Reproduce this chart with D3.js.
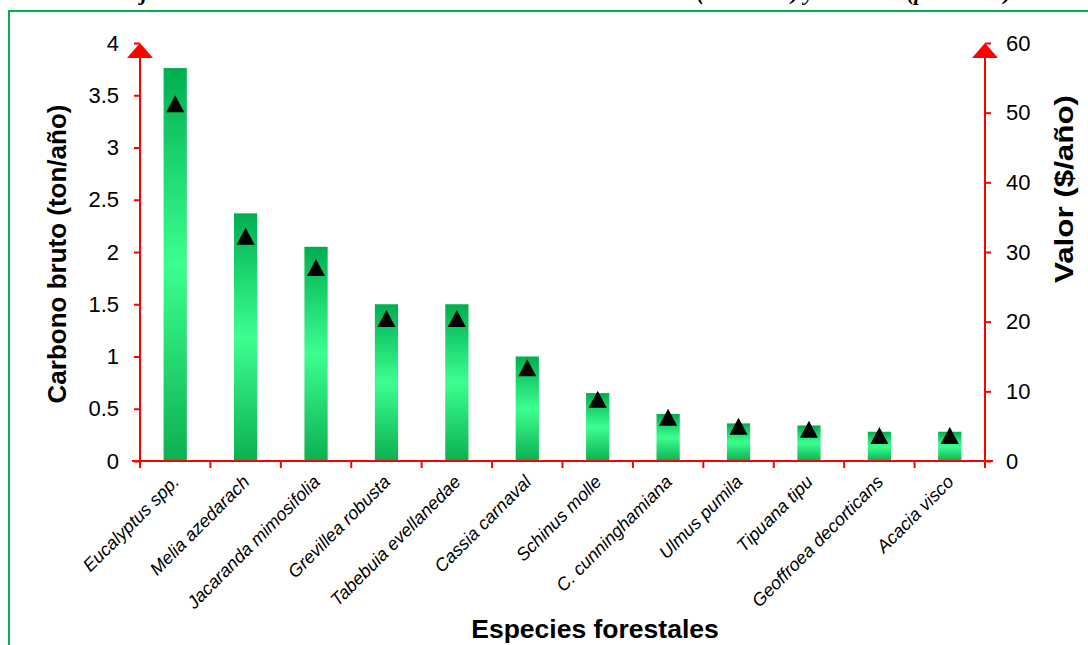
<!DOCTYPE html>
<html>
<head>
<meta charset="utf-8">
<script src="https://cdn.jsdelivr.net/npm/d3@7/dist/d3.min.js"></script>
<style>
  html, body { margin: 0; padding: 0; background: #fff; }
  svg { display: block; }
</style>
</head>
<body>
<svg id="chart" width="1088" height="645"></svg>
<script>
// Species, carbon fixed per year (bars, left axis) and its value (triangles, right axis)
const species = [
  "Eucalyptus spp.", "Melia azedarach", "Jacaranda mimosifolia", "Grevillea robusta",
  "Tabebuia evellanedae", "Cassia carnaval", "Schinus molle", "C. cunninghamiana",
  "Ulmus pumila", "Tipuana tipu", "Geoffroea decorticans", "Acacia visco"
];
const carbono = [3.76, 2.37, 2.05, 1.50, 1.50, 1.00, 0.65, 0.45, 0.36, 0.34, 0.28, 0.28];
const valor   = [51.2, 32.2, 27.7, 20.4, 20.4, 13.3, 8.8, 6.2, 4.9, 4.5, 3.6, 3.6];
const carbonoTicks = [0, 0.5, 1, 1.5, 2, 2.5, 3, 3.5, 4];
const valorTicks = [0, 10, 20, 30, 40, 50, 60];

const svg = d3.select("#chart");
const RED = "#ff0000";
const plotL = 140, plotR = 985, plotT = 43, plotB = 461;

// frame around the figure
svg.append("rect")
  .attr("x", 9).attr("y", 11).attr("width", 1200).attr("height", 800)
  .attr("fill", "none").attr("stroke", "#00b050").attr("stroke-width", 2);

// caption line running above the frame
const cap = svg.append("g")
  .attr("font-family", "'Liberation Serif', 'Times New Roman', serif")
  .attr("font-style", "italic").attr("font-weight", "bold")
  .attr("font-size", 22).attr("fill", "#000");
cap.append("text").attr("x", 141).attr("y", 0).attr("text-anchor", "end").text("Cuadro 4. Fi");
cap.append("text").attr("x", 141).attr("y", 0).text("jación anual de carbono bruto en el arbolado urbano");
cap.append("text").attr("x", 697).attr("y", 0).text("(toneladas) y valor");
cap.append("text").attr("x", 907).attr("y", 0).text("(pesos/año)");

const x = d3.scaleBand().domain(species).range([plotL, plotR]).padding(0);
const yL = d3.scaleLinear().domain([0, 4]).range([plotB, plotT]);
const yR = d3.scaleLinear().domain([0, 60]).range([plotB, plotT]);

// bar gradient: dark at the ends, bright in the middle
const defs = svg.append("defs");
const grad = defs.append("linearGradient").attr("id", "barGrad")
  .attr("x1", 0).attr("y1", 0).attr("x2", 0).attr("y2", 1);
grad.append("stop").attr("offset", "0%").attr("stop-color", "#00ae50");
grad.append("stop").attr("offset", "50%").attr("stop-color", "#3cff90");
grad.append("stop").attr("offset", "100%").attr("stop-color", "#0cb050");

const barW = x.bandwidth() * 0.33;
svg.append("g").selectAll("rect")
  .data(species)
  .join("rect")
  .attr("x", d => x(d) + (x.bandwidth() - barW) / 2)
  .attr("y", (d, i) => yL(carbono[i]))
  .attr("width", barW)
  .attr("height", (d, i) => yL(0) - yL(carbono[i]))
  .attr("fill", "url(#barGrad)");

// axes
const fmt = d3.format("~g");
const axisFont = "'Liberation Sans', Arial, sans-serif";

const gL = svg.append("g").attr("transform", `translate(${plotL},0)`)
  .call(d3.axisLeft(yL).tickValues(carbonoTicks).tickFormat(fmt).tickSize(6).tickPadding(15));
const gR = svg.append("g").attr("transform", `translate(${plotR},0)`)
  .call(d3.axisRight(yR).tickValues(valorTicks).tickFormat(fmt).tickSize(6).tickPadding(15));

[gL, gR].forEach(g => {
  g.select(".domain").remove();
  g.selectAll(".tick line").attr("stroke", RED).attr("stroke-width", 2);
  g.selectAll(".tick text").attr("font-family", axisFont).attr("font-size", 22).attr("fill", "#000");
});

// vertical axis lines
svg.append("line").attr("x1", plotL).attr("x2", plotL).attr("y1", plotT + 4).attr("y2", plotB + 6)
  .attr("stroke", RED).attr("stroke-width", 2);
svg.append("line").attr("x1", plotR).attr("x2", plotR).attr("y1", plotT + 4).attr("y2", plotB + 6)
  .attr("stroke", RED).attr("stroke-width", 2);

// category axis along the bottom, ticks between species
svg.append("line").attr("x1", plotL - 8).attr("x2", plotR + 8).attr("y1", plotB).attr("y2", plotB)
  .attr("stroke", RED).attr("stroke-width", 2);
const bounds = species.map(d => x(d)).concat([x(species[species.length - 1]) + x.bandwidth()]);
svg.append("g").selectAll("line")
  .data(bounds)
  .join("line")
  .attr("x1", d => d).attr("x2", d => d)
  .attr("y1", plotB).attr("y2", plotB + 7)
  .attr("stroke", RED).attr("stroke-width", 2);

// arrow heads on the top of both value axes
[plotL, plotR].forEach(ax => {
  svg.append("path")
    .attr("d", `M${ax},${plotT} L${ax + 13},${plotT + 15} L${ax - 13},${plotT + 15} Z`)
    .attr("fill", RED);
});

// value markers (right axis)
svg.append("g").selectAll("path")
  .data(species)
  .join("path")
  .attr("d", (d, i) => {
    const cx = x(d) + x.bandwidth() / 2, cy = yR(valor[i]);
    return `M${cx},${cy - 9} L${cx + 9},${cy + 8} L${cx - 9},${cy + 8} Z`;
  })
  .attr("fill", "#000");

// species labels
svg.append("g").selectAll("text")
  .data(species)
  .join("text")
  .attr("transform", d => `translate(${x(d) + x.bandwidth() / 2 + 5},${plotB + 22}) rotate(-45)`)
  .attr("text-anchor", "end")
  .attr("font-family", axisFont).attr("font-style", "italic").attr("font-size", 18)
  .attr("fill", "#000")
  .text(d => d);

// axis titles
svg.append("text")
  .attr("transform", "translate(66,254) rotate(-90)")
  .attr("text-anchor", "middle")
  .attr("font-family", axisFont).attr("font-weight", "bold").attr("font-size", 26)
  .text("Carbono bruto (ton/año)");
svg.append("text")
  .attr("transform", "translate(1073,189) rotate(-90)")
  .attr("text-anchor", "middle")
  .attr("font-family", axisFont).attr("font-weight", "bold").attr("font-size", 26)
  .attr("textLength", 188).attr("lengthAdjust", "spacingAndGlyphs")
  .text("Valor ($/año)");
svg.append("text")
  .attr("x", 595).attr("y", 638)
  .attr("text-anchor", "middle")
  .attr("font-family", axisFont).attr("font-weight", "bold").attr("font-size", 26.5)
  .text("Especies forestales");
</script>
</body>
</html>
